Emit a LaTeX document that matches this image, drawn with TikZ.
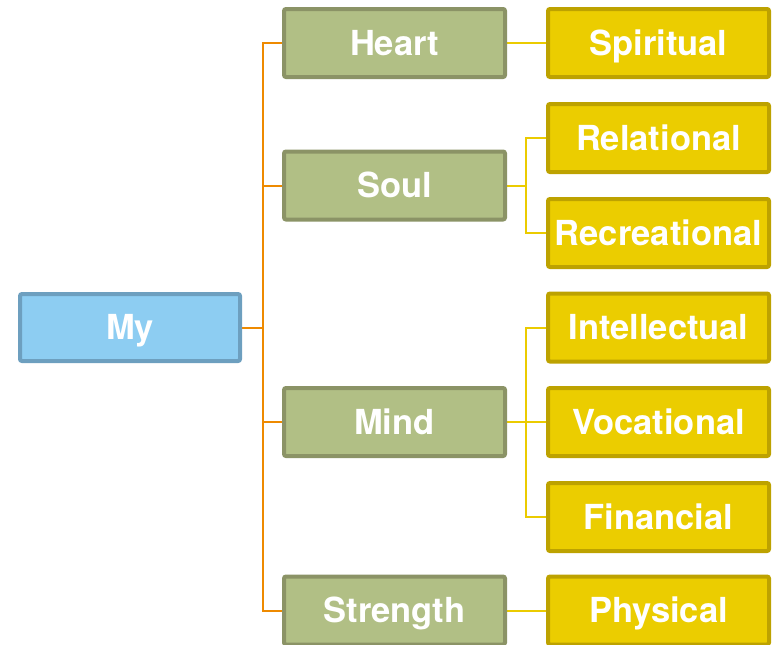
\documentclass[tikz,border=0pt]{standalone}
\usepackage{fontspec}
\setmainfont{TeX Gyre Heros}
\usetikzlibrary{backgrounds}
\definecolor{myfill}{HTML}{8DCDF2}
\definecolor{myborder}{HTML}{6D9FBF}
\definecolor{gfill}{HTML}{B1BF85}
\definecolor{gborder}{HTML}{8B9366}
\definecolor{yfill}{HTML}{EBCD00}
\definecolor{yborder}{HTML}{BDA200}
\definecolor{oline}{HTML}{EE8A00}
\definecolor{yline}{HTML}{EBCB00}
\tikzset{
  boxbase/.style={draw, line width=4pt, rounded corners=2pt, minimum width=221pt, minimum height=68pt, inner sep=0pt, text=white, text height=24.8pt, text depth=0pt, font=\fontsize{34.5}{40}\selectfont\bfseries},
  mybox/.style={boxbase, fill=myfill, draw=myborder, minimum width=220pt, minimum height=67pt},
  gbox/.style={boxbase, fill=gfill, draw=gborder},
  ybox/.style={boxbase, fill=yfill, draw=yborder},
  oconn/.style={draw=oline, line width=2pt},
  yconn/.style={draw=yline, line width=2pt},
}
\begin{document}
\begin{tikzpicture}[x=1pt,y=-1pt]
\useasboundingbox (0,0) rectangle (780,645);
\node[mybox] (my) at (130,327.5) {My};
\node[gbox] (heart) at (394.5,43) {Heart};
\node[gbox] (soul) at (394.5,185.5) {Soul};
\node[gbox] (mind) at (394.5,422) {Mind};
\node[gbox] (strength) at (394.5,610.5) {Strength};
\node[ybox] (spiritual) at (658.5,43) {Spiritual};
\node[ybox] (relational) at (658.5,138) {Relational};
\node[ybox] (recreational) at (658.5,233) {Recreational};
\node[ybox] (intellectual) at (658.5,327.5) {Intellectual};
\node[ybox] (vocational) at (658.5,422) {Vocational};
\node[ybox] (financial) at (658.5,517) {Financial};
\node[ybox] (physical) at (658.5,610.5) {Physical};
\coordinate (t) at (262.5,327.5);
\coordinate (b1) at (526,185.5);
\coordinate (b2) at (526,422);
\begin{pgfonlayer}{background}
\draw[oconn] (my.east) -- (t);
\draw[oconn] (t) |- (heart.west);
\draw[oconn] (t) |- (soul.west);
\draw[oconn] (t) |- (mind.west);
\draw[oconn] (t) |- (strength.west);
\draw[yconn] (heart.east) -- (spiritual.west);
\draw[yconn] (soul.east) -- (b1);
\draw[yconn] (b1) |- (relational.west);
\draw[yconn] (b1) |- (recreational.west);
\draw[yconn] (mind.east) -- (vocational.west);
\draw[yconn] (b2) |- (intellectual.west);
\draw[yconn] (b2) |- (financial.west);
\draw[yconn] (strength.east) -- (physical.west);
\end{pgfonlayer}
\end{tikzpicture}
\end{document}
